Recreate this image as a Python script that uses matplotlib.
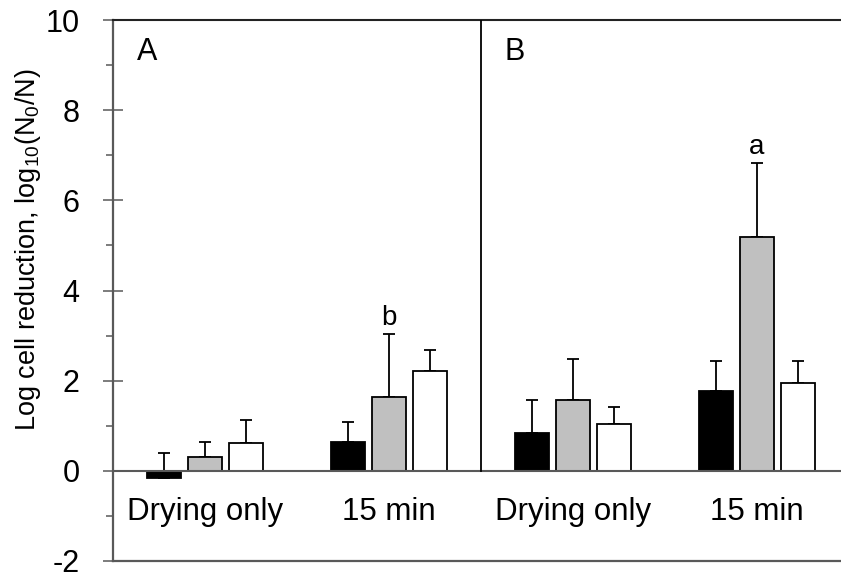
import matplotlib
matplotlib.use("Agg")
import matplotlib.pyplot as plt
from matplotlib.ticker import MultipleLocator
import numpy as np

plt.rcParams['font.family'] = ['Liberation Sans', 'DejaVu Sans']
plt.rcParams['mathtext.fontset'] = 'custom'
plt.rcParams['mathtext.rm'] = 'Liberation Sans'
plt.rcParams['mathtext.it'] = 'Liberation Sans:italic'
plt.rcParams['axes.unicode_minus'] = False

categories = ["Drying only", "15 min", "Drying only", "15 min"]
panels = ["A", "B"]
black_vals = [-0.17, 0.64, 0.84, 1.77]
black_err = [0.57, 0.44, 0.74, 0.67]
gray_vals = [0.30, 1.64, 1.58, 5.19]
gray_err = [0.33, 1.39, 0.91, 1.63]
white_vals = [0.61, 2.22, 1.04, 1.94]
white_err = [0.51, 0.46, 0.37, 0.50]
letters = {(1, "gray"): "b", (3, "gray"): "a"}

W, H = 841, 575
fig = plt.figure(figsize=(W / 100, H / 100), dpi=100)
ax = fig.add_axes([113 / W, (H - 561) / H, (W - 113) / W, (561 - 20) / H])

x = np.arange(len(categories))
bw = 0.18
off = 0.223
series = [(black_vals, black_err, "black", "black"),
          (gray_vals, gray_err, "#c0c0c0", "gray"),
          (white_vals, white_err, "white", "white")]
for i, (vals, errs, col, name) in enumerate(series):
    xs = x + (i - 1) * off
    ax.errorbar(xs, vals, yerr=[np.zeros(len(errs)), errs], fmt='none',
                ecolor='black', elinewidth=1.3, capsize=4.5, capthick=1.3, zorder=2)
    ax.bar(xs, vals, width=bw, color=col, edgecolor='black', linewidth=1.3, zorder=3)
    for j in range(len(vals)):
        if (j, name) in letters:
            ax.text(xs[j], vals[j] + errs[j] + 0.36, letters[(j, name)],
                    ha='center', va='center', fontsize=20)

ax.set_xlim(-0.5, (W - 205) / 184)
ax.set_ylim(-2, 10)
ax.axhline(0, color='#595959', lw=1.5, zorder=4)
ax.plot([1.5, 1.5], [0, 10], color='black', lw=1.3, zorder=4)

for j, c in enumerate(categories):
    ax.text(x[j], -0.92, c, ha='center', va='center', fontsize=22.5)
ax.text(-0.315, 9.3, panels[0], ha='center', va='center', fontsize=22)
ax.text(1.685, 9.3, panels[1], ha='center', va='center', fontsize=22)

ax.spines['right'].set_visible(False)
ax.spines['top'].set_color('#222222')
ax.spines['top'].set_linewidth(1.5)
ax.spines['left'].set_color('#595959')
ax.spines['left'].set_linewidth(1.6)
ax.spines['bottom'].set_color('#595959')
ax.spines['bottom'].set_linewidth(1.6)

ax.set_xticks([])
ax.yaxis.set_major_locator(MultipleLocator(2))
ax.yaxis.set_minor_locator(MultipleLocator(1))
ax.tick_params(axis='y', which='major', direction='inout', length=14, width=1.1,
               color='#595959', labelsize=22, pad=17)
ax.tick_params(axis='y', which='minor', direction='out', length=5, width=1.1,
               color='#595959')

fig.text(28 / W, (H - 250) / H, r'Log cell reduction, log$_{10}$(N$_0$/N)',
         rotation=90, ha='center', va='center', fontsize=19.5)

fig.savefig("out.png", dpi=100)
